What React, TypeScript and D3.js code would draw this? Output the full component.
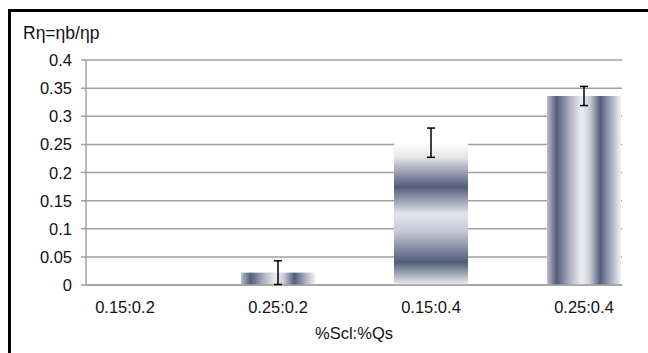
import React, { useEffect, useRef } from 'react';
import * as d3 from 'd3';

const categories = ['0.15:0.2', '0.25:0.2', '0.15:0.4', '0.25:0.4'];
const values = [0, 0.022, 0.253, 0.336];
const errors = [0, 0.021, 0.026, 0.017];
const yTicks = [0, 0.05, 0.1, 0.15, 0.2, 0.25, 0.3, 0.35, 0.4];
// which way each bar's shading runs
const shading = ['h', 'h', 'v', 'h'];

const W = 648;
const H = 353;

export default function App() {
  const svgRef = useRef<SVGSVGElement | null>(null);

  useEffect(() => {
    const svg = d3.select(svgRef.current);
    svg.selectAll('*').remove();

    const left = 86;
    const right = 622;
    const top = 60;
    const bottom = 285;
    const font = 'Liberation Sans, Arial, sans-serif';
    const fs = 16.5;

    const y = d3.scaleLinear().domain([0, 0.4]).range([bottom, top]);
    const x = d3.scalePoint<string>().domain(categories).range([125, 584]);
    const barW = 74;

    const defs = svg.append('defs');
    const dark = '#525c7a';
    const hGrad = defs.append('linearGradient').attr('id', 'gh')
      .attr('x1', 0).attr('y1', 0).attr('x2', 1).attr('y2', 0);
    [[0, '#b9bfcc'], [0.13, dark], [0.3, '#aab0c0'], [0.47, '#eeeef2'], [0.58, '#c9ccd6'],
     [0.72, dark], [0.88, '#b0b5c4'], [1, '#f2f2f5']]
      .forEach(([o, c]) => hGrad.append('stop').attr('offset', o as number).attr('stop-color', c as string));
    const vGrad = defs.append('linearGradient').attr('id', 'gv')
      .attr('x1', 0).attr('y1', 0).attr('x2', 0).attr('y2', 1);
    [[0, '#ffffff'], [0.1, '#e6e7ec'], [0.31, dark], [0.5, '#e4e5ea'], [0.62, '#c8cbd5'],
     [0.84, dark], [1, '#eeeff2']]
      .forEach(([o, c]) => vGrad.append('stop').attr('offset', o as number).attr('stop-color', c as string));

    // frame
    svg.append('line').attr('x1', 8).attr('x2', W).attr('y1', 10.5).attr('y2', 10.5)
      .attr('stroke', '#000').attr('stroke-width', 3);
    svg.append('line').attr('x1', 9.5).attr('x2', 9.5).attr('y1', 9).attr('y2', H)
      .attr('stroke', '#000').attr('stroke-width', 3);

    // grid + ticks
    const g = svg.append('g');
    yTicks.forEach(t => {
      g.append('line').attr('x1', left - 5).attr('x2', right)
        .attr('y1', y(t)).attr('y2', y(t))
        .attr('stroke', '#a0a0a0').attr('stroke-width', 1.5);
      g.append('text').attr('x', 72).attr('y', y(t) + 6)
        .attr('text-anchor', 'end').attr('font-family', font).attr('font-size', fs)
        .attr('fill', '#111').text(String(t));
    });
    g.append('line').attr('x1', left).attr('x2', left).attr('y1', top).attr('y2', bottom)
      .attr('stroke', '#a0a0a0').attr('stroke-width', 1.5);

    // bars
    categories.forEach((c, i) => {
      if (values[i] <= 0) return;
      const cx = x(c) as number;
      svg.append('rect').attr('x', cx - barW / 2).attr('width', barW)
        .attr('y', y(values[i])).attr('height', bottom - y(values[i]))
        .attr('fill', shading[i] === 'v' ? 'url(#gv)' : 'url(#gh)');
    });

    // axis line over bars
    svg.append('line').attr('x1', left).attr('x2', right).attr('y1', bottom).attr('y2', bottom)
      .attr('stroke', '#a0a0a0').attr('stroke-width', 1.5);

    // error bars
    categories.forEach((c, i) => {
      if (errors[i] <= 0) return;
      const cx = x(c) as number;
      const y1 = y(values[i] + errors[i]);
      const y0 = y(Math.max(0, values[i] - errors[i]));
      const e = svg.append('g').attr('stroke', '#000').attr('stroke-width', 1.5);
      e.append('line').attr('x1', cx).attr('x2', cx).attr('y1', y1).attr('y2', y0);
      e.append('line').attr('x1', cx - 4).attr('x2', cx + 4).attr('y1', y1).attr('y2', y1);
      e.append('line').attr('x1', cx - 4).attr('x2', cx + 4).attr('y1', y0).attr('y2', y0);
    });

    // x labels
    categories.forEach(c => {
      svg.append('text').attr('x', x(c) as number).attr('y', 313)
        .attr('text-anchor', 'middle').attr('font-family', font).attr('font-size', fs)
        .attr('fill', '#111').text(c);
    });

    svg.append('text').attr('x', 354).attr('y', 339).attr('text-anchor', 'middle')
      .attr('font-family', font).attr('font-size', fs).attr('fill', '#111').text('%Scl:%Qs');
    svg.append('text').attr('x', 23).attr('y', 39)
      .attr('font-family', font).attr('font-size', 17.5).attr('fill', '#111').text('Rη=ηb/ηp');
  }, []);

  return (
    <svg ref={svgRef} width={W} height={H}
      style={{ position: 'absolute', left: 0, top: 0, background: '#fff' }} />
  );
}
